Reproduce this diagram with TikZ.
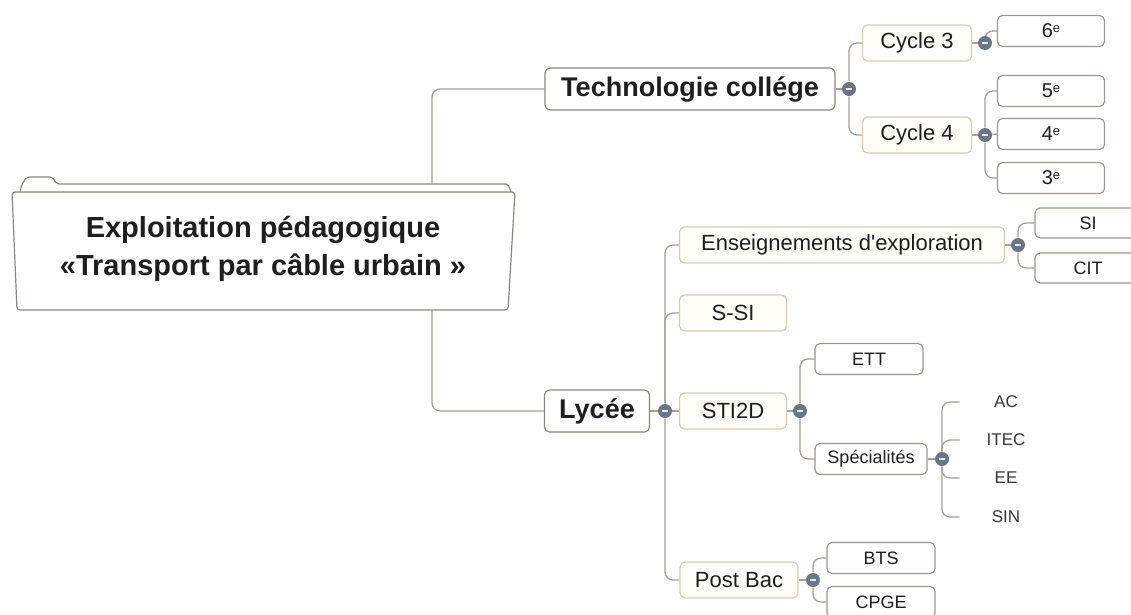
\documentclass[tikz,border=0pt]{standalone}
\usepackage{fontspec}
\setmainfont{Liberation Sans}
\usetikzlibrary{backgrounds}
\definecolor{wire}{HTML}{A69E98}
\definecolor{mainline}{HTML}{8E8580}
\definecolor{subline}{HTML}{D8CBB5}
\definecolor{subfill}{HTML}{FFFDF8}
\definecolor{leafline}{HTML}{A09590}
\definecolor{knobfill}{HTML}{6B7585}
\definecolor{ink}{HTML}{1E1E1E}
\newcommand{\ord}[1]{#1\raisebox{5pt}{\fontsize{13}{13}\selectfont e}}

\begin{document}
\begin{tikzpicture}[x=1pt, y=-1pt, semithick,
    wire/.style={draw=wire, line width=1.3pt, rounded corners=8pt},
    mainbox/.style={draw=mainline, fill=white, line width=1.2pt, rounded corners=5pt,
      font=\bfseries\fontsize{27}{31}\selectfont, text=ink, minimum height=42pt, inner sep=2pt},
    subbox/.style={draw=subline, fill=subfill, line width=1.2pt, rounded corners=5pt,
      font=\fontsize{22}{26}\selectfont, text=ink, minimum height=36pt, inner sep=2pt},
    leafbox/.style={draw=leafline, fill=white, line width=1.2pt, rounded corners=5pt,
      font=\fontsize{18}{22}\selectfont, text=ink, minimum height=31pt, minimum width=107pt, inner sep=2pt},
    leaftext/.style={font=\fontsize{17}{20}\selectfont, text=ink!90, minimum width=92pt, inner sep=0pt},
    knob/.style={circle, fill=knobfill, minimum size=14pt, inner sep=0pt,
      path picture={\draw[white!85!knobfill, line width=1.3pt]
        ([xshift=-3pt]path picture bounding box.center) -- ([xshift=3pt]path picture bounding box.center);}}]
  \useasboundingbox (0,0) rectangle (1131,614);

  % root folder
  \draw[mainline, fill=white, line width=1.2pt, rounded corners=2pt]
    (20,192) -- (22,184) -- (27,177) -- (52,177) -- (57,184) -- (508,184) -- (511,192);
  \draw[mainline, fill=white, line width=1.2pt, rounded corners=3pt]
    (12,192) -- (515,192) -- (508,310) -- (17,310) -- cycle;
  \node[font=\bfseries\fontsize{29}{38}\selectfont, text=ink, align=center] (root) at (263,249)
    {Exploitation pédagogique\\ «Transport par câble urbain »};
  \coordinate (rtop) at (432,184);
  \coordinate (rbot) at (432,310);

  % college branch
  \node[mainbox, minimum width=290pt] (tech) at (690,89) {Technologie collége};
  \node[knob] (k1) at (849,89) {};
  \node[subbox, minimum width=109pt] (cyc3) at (917,43) {Cycle 3};
  \node[subbox, minimum width=109pt] (cyc4) at (917,135) {Cycle 4};
  \node[knob] (k2) at (985,43) {};
  \node[knob] (k2b) at (985,135) {};
  \node[leafbox, font=\fontsize{20}{22}\selectfont] (six) at (1051,31) {\ord{6}};
  \node[leafbox, font=\fontsize{20}{22}\selectfont] (five) at (1051,91) {\ord{5}};
  \node[leafbox, font=\fontsize{20}{22}\selectfont] (four) at (1051,134) {\ord{4}};
  \node[leafbox, font=\fontsize{20}{22}\selectfont] (three) at (1051,178) {\ord{3}};

  % lycee branch
  \node[mainbox, minimum width=105pt] (lyc) at (597,411) {Lycée};
  \node[knob] (k3) at (665,411) {};
  \node[subbox, minimum width=325pt] (ens) at (842,245) {Enseignements d\textquotesingle exploration};
  \node[knob] (k4) at (1018,245) {};
  \node[leafbox, minimum width=106pt, minimum height=30pt] (si) at (1088,223) {SI};
  \node[leafbox, minimum width=106pt, minimum height=30pt] (cit) at (1088,268) {CIT};
  \node[subbox, minimum width=107pt] (ssi) at (733,313) {S-SI};
  \node[subbox, minimum width=107pt] (sti) at (733,411) {STI2D};
  \node[knob] (k5) at (800,411) {};
  \node[leafbox, minimum width=108pt] (ett) at (869,359) {ETT};
  \node[leafbox, minimum width=112pt] (spec) at (871,459) {Spécialités};
  \node[knob] (k6) at (942,459) {};
  \node[leaftext] (ac) at (1006,402) {AC};
  \node[leaftext] (itec) at (1006,440) {ITEC};
  \node[leaftext] (ee) at (1006,478) {EE};
  \node[leaftext] (sin) at (1006,517) {SIN};
  \node[subbox, minimum width=118pt] (post) at (739,580) {Post Bac};
  \node[knob] (k7) at (813,580) {};
  \node[leafbox, minimum width=108pt] (bts) at (881,558) {BTS};
  \node[leafbox, minimum width=108pt] (cpge) at (881,602) {CPGE};

  \begin{scope}[on background layer]
    \draw[wire] (rtop) |- (tech.west);
    \draw[wire] (rbot) |- (lyc.west);
    \draw[wire] (tech) -- (k1);
    \draw[wire] (k1) |- (cyc3.west);
    \draw[wire] (k1) |- (cyc4.west);
    \draw[wire] (cyc3) -- (k2);
    \draw[wire] (k2) |- (six.west);
    \draw[wire] (cyc4) -- (k2b);
    \draw[wire] (k2b) |- (five.west);
    \draw[wire] (k2b) -- (four.west);
    \draw[wire] (k2b) |- (three.west);
    \draw[wire] (lyc) -- (k3);
    \draw[wire] (k3) |- (ens.west);
    \draw[wire] (k3) |- (ssi.west);
    \draw[wire] (k3) -- (sti.west);
    \draw[wire] (k3) |- (post.west);
    \draw[wire] (ens) -- (k4);
    \draw[wire] (k4) |- (si.west);
    \draw[wire] (k4) |- (cit.west);
    \draw[wire] (sti) -- (k5);
    \draw[wire] (k5) |- (ett.west);
    \draw[wire] (k5) |- (spec.west);
    \draw[wire] (spec) -- (k6);
    \draw[wire] (k6) |- (ac.west);
    \draw[wire] (k6) |- (itec.west);
    \draw[wire] (k6) |- (ee.west);
    \draw[wire] (k6) |- (sin.west);
    \draw[wire] (post) -- (k7);
    \draw[wire] (k7) |- (bts.west);
    \draw[wire] (k7) |- (cpge.west);
  \end{scope}
\end{tikzpicture}
\end{document}
